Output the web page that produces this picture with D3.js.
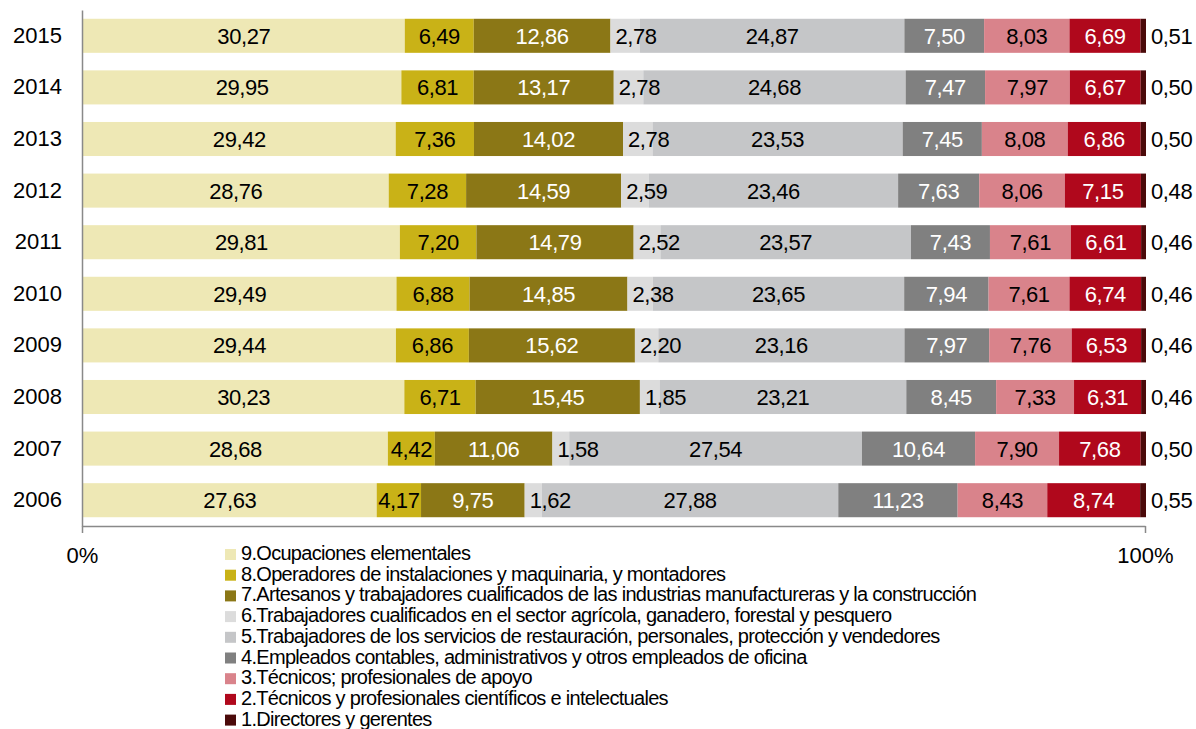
<!DOCTYPE html>
<html>
<head>
<meta charset="utf-8">
<script src="https://cdn.jsdelivr.net/npm/d3@7"></script>
<style>
  body { margin: 0; background: #fff; }
  svg { font-family: "Liberation Sans", Arial, sans-serif; }
</style>
</head>
<body>
<svg id="chart" width="1196" height="729"></svg>
<script>
let years = ["2015", "2014", "2013", "2012", "2011", "2010", "2009", "2008", "2007", "2006"];

let categories = [
  "9.Ocupaciones elementales",
  "8.Operadores de instalaciones y maquinaria, y montadores",
  "7.Artesanos y trabajadores cualificados de las industrias manufactureras y la construcción",
  "6.Trabajadores cualificados en el sector agrícola, ganadero, forestal y pesquero",
  "5.Trabajadores de los servicios de restauración, personales, protección y vendedores",
  "4.Empleados contables, administrativos y otros empleados de oficina",
  "3.Técnicos; profesionales de apoyo",
  "2.Técnicos y profesionales científicos e intelectuales",
  "1.Directores y gerentes"
];

let colors = ["#eee8b5", "#c9b217", "#8b7716", "#dcdcdc", "#c5c6c8", "#808080", "#d9838b", "#b0081c", "#4b0a0a"];
let whiteText = [false, false, true, false, false, true, false, true, false];

// values per category, same order as years
let ocup9 = [30.27, 29.95, 29.42, 28.76, 29.81, 29.49, 29.44, 30.23, 28.68, 27.63];
let ocup8 = [6.49, 6.81, 7.36, 7.28, 7.20, 6.88, 6.86, 6.71, 4.42, 4.17];
let ocup7 = [12.86, 13.17, 14.02, 14.59, 14.79, 14.85, 15.62, 15.45, 11.06, 9.75];
let ocup6 = [2.78, 2.78, 2.78, 2.59, 2.52, 2.38, 2.20, 1.85, 1.58, 1.62];
let ocup5 = [24.87, 24.68, 23.53, 23.46, 23.57, 23.65, 23.16, 23.21, 27.54, 27.88];
let ocup4 = [7.50, 7.47, 7.45, 7.63, 7.43, 7.94, 7.97, 8.45, 10.64, 11.23];
let ocup3 = [8.03, 7.97, 8.08, 8.06, 7.61, 7.61, 7.76, 7.33, 7.90, 8.43];
let ocup2 = [6.69, 6.67, 6.86, 7.15, 6.61, 6.74, 6.53, 6.31, 7.68, 8.74];
let ocup1 = [0.51, 0.50, 0.50, 0.48, 0.46, 0.46, 0.46, 0.46, 0.50, 0.55];

let xTicks = [0, 100];

let series = [ocup9, ocup8, ocup7, ocup6, ocup5, ocup4, ocup3, ocup2, ocup1];
let keys = categories.map((c, i) => "k" + i);

let rows = years.map((y, j) => {
  let r = {year: y};
  series.forEach((s, i) => { r[keys[i]] = s[j]; });
  return r;
});

let fmt = d3.formatLocale({decimal: ",", thousands: ".", grouping: [3], currency: ["", "€"]}).format(".2f");

let svg = d3.select("#chart");

let x = d3.scaleLinear().domain([0, 100]).range([83, 1146]);
let y = d3.scaleBand().domain(years).range([10, 526]).paddingInner(0.34).paddingOuter(0.17);

let stacked = d3.stack().keys(keys)(rows);

let layers = svg.selectAll("g.layer")
  .data(stacked)
  .enter()
  .append("g")
  .attr("class", "layer")
  .attr("fill", (d, i) => colors[i]);

layers.selectAll("rect")
  .data(d => d)
  .enter()
  .append("rect")
  .attr("x", d => x(d[0]))
  .attr("y", d => y(d.data.year))
  .attr("width", d => x(d[1]) - x(d[0]))
  .attr("height", y.bandwidth());

// value labels, drawn after all the bars so nothing covers them
let labels = svg.selectAll("g.labels")
  .data(stacked)
  .enter()
  .append("g")
  .attr("class", "labels");

labels.each(function(layer, i) {
  d3.select(this).selectAll("text")
    .data(layer)
    .enter()
    .append("text")
    .attr("x", d => {
      if (i === 8) return x(d[1]) + 5;
      if (i === 3) return x(d[0]) + 5;
      return (x(d[0]) + x(d[1])) / 2;
    })
    .attr("y", d => y(d.data.year) + y.bandwidth() / 2)
    .attr("dy", "0.36em")
    .attr("text-anchor", (i === 8 || i === 3) ? "start" : "middle")
    .attr("font-size", 22)
    .attr("letter-spacing", -0.4)
    .attr("fill", whiteText[i] ? "#fff" : "#000")
    .text(d => fmt(d[1] - d[0]));
});

// axes
let yAxis = d3.axisLeft(y).tickSize(0).tickSizeOuter(0).tickPadding(20);
let gy = svg.append("g").attr("transform", "translate(82,0)").call(yAxis);
gy.select(".domain").attr("stroke", "#898989").attr("stroke-width", 1.5);
gy.selectAll("text").attr("font-size", 22).attr("fill", "#000")
  .attr("font-family", "Liberation Sans, Arial, sans-serif");

let xAxis = d3.axisBottom(x).tickValues(xTicks).tickSize(7).tickSizeOuter(0)
  .tickPadding(14).tickFormat(d => d + "%");
let gx = svg.append("g").attr("transform", "translate(-1,526)").call(xAxis);
gx.select(".domain").attr("stroke", "#898989").attr("stroke-width", 1.5);
gx.selectAll(".tick line").attr("stroke", "#898989").attr("stroke-width", 1.5);
gx.selectAll("text").attr("font-size", 22).attr("fill", "#000")
  .attr("font-family", "Liberation Sans, Arial, sans-serif");

// legend
let legend = svg.append("g").attr("transform", "translate(225,549)");
let items = legend.selectAll("g")
  .data(categories)
  .enter()
  .append("g")
  .attr("transform", (d, i) => "translate(0," + (i * 20.7) + ")");
items.append("rect")
  .attr("width", 11).attr("height", 11)
  .attr("fill", (d, i) => colors[i]);
items.append("text")
  .attr("x", 16).attr("y", 11)
  .attr("font-size", 20)
  .attr("letter-spacing", -0.7)
  .attr("fill", "#000")
  .text(d => d);
</script>
</body>
</html>
